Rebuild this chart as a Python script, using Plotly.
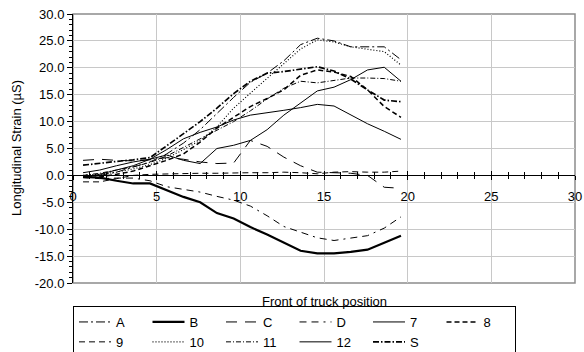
import plotly.graph_objects as go

x_pos = [0.6, 1.6, 2.6, 3.6, 4.6, 5.6, 6.6, 7.6, 8.6, 9.6, 10.6, 11.6, 12.6, 13.6, 14.6, 15.6, 16.6, 17.6, 18.6, 19.6]

series_names = ["A", "B", "C", "D", "7", "8", "9", "10", "11", "12", "S"]

A = [-0.3, 0.0, 0.6, 1.5, 2.5, 4.0, 6.0, 8.5, 11.5, 14.5, 17.3, 19.0, 21.3, 24.3, 25.5, 25.0, 23.9, 23.9, 23.9, 21.5]
B = [-0.3, -0.4, -1.0, -1.5, -1.5, -2.8, -4.0, -5.0, -7.0, -8.0, -9.6, -11.0, -12.5, -14.0, -14.5, -14.5, -14.2, -13.8, -12.5, -11.2]
C = [2.8, 3.0, 2.8, 2.7, 2.9, 3.3, 3.0, 2.5, 2.2, 2.3, 6.5, 5.4, 3.4, 1.8, 0.6, 0.5, 0.4, 0.0, -2.2, -2.4]
D = [-0.4, -0.6, -0.5, -0.5, -1.0, -2.1, -2.6, -3.1, -3.9, -4.6, -5.7, -7.5, -9.5, -10.6, -11.6, -12.1, -11.7, -11.2, -9.8, -7.7]
S7 = [-0.3, 0.2, 1.0, 1.8, 3.0, 4.8, 6.8, 8.0, 9.0, 10.3, 11.2, 11.6, 12.1, 12.6, 13.2, 12.9, 11.3, 9.6, 8.2, 6.7]
S8 = [-0.4, -0.3, 0.2, 0.8, 1.8, 2.8, 4.0, 6.2, 8.8, 10.8, 12.8, 14.3, 15.9, 18.6, 19.6, 19.2, 18.4, 15.9, 12.8, 10.8]
S9 = [-1.2, -1.2, -0.6, 0.0, 0.2, 0.3, 0.3, 0.4, 0.4, 0.5, 0.5, 0.5, 0.6, 0.5, 0.3, 0.6, 0.7, 0.6, 0.6, 0.8]
S10 = [0.0, 0.2, 0.6, 1.2, 2.0, 3.2, 4.8, 6.5, 9.0, 12.5, 15.3, 18.0, 20.8, 23.5, 25.2, 24.8, 23.9, 23.5, 23.0, 20.5]
S11 = [0.0, 0.4, 1.0, 1.6, 2.4, 3.6, 5.2, 6.8, 8.5, 10.0, 12.0, 14.2, 16.2, 17.5, 17.2, 17.6, 18.1, 18.1, 18.0, 17.5]
S12 = [0.5, 1.0, 1.8, 2.5, 3.0, 3.8, 2.8, 2.2, 5.0, 5.6, 6.5, 8.5, 11.2, 13.5, 15.7, 16.4, 17.8, 19.6, 20.1, 17.5]
SS = [1.9, 2.3, 2.6, 2.9, 3.3, 5.5, 7.8, 10.0, 12.5, 15.2, 17.5, 19.0, 19.3, 19.7, 20.2, 19.4, 17.9, 15.9, 14.0, 13.7]

series_values = [A, B, C, D, S7, S8, S9, S10, S11, S12, SS]

y_tick_vals = [30, 25, 20, 15, 10, 5, 0, -5, -10, -15, -20]
y_tick_text = ["30.0", "25.0", "20.0", "15.0", "10.0", "5.0", "0.0", "-5.0", "-10.0", "-15.0", "-20.0"]
x_tick_vals = [0, 5, 10, 15, 20, 25, 30]
x_tick_text = ["0", "5", "10", "15", "20", "25", "30"]

styles = {
    "A": dict(color="black", width=1, dash="9px,3px,2px,3px"),
    "B": dict(color="black", width=2.2, dash="solid"),
    "C": dict(color="black", width=1, dash="11px,8px"),
    "D": dict(color="black", width=1, dash="7px,5px,7px,5px,2px,5px"),
    "7": dict(color="black", width=1, dash="solid"),
    "8": dict(color="black", width=1.5, dash="5px,3px"),
    "9": dict(color="black", width=1, dash="6px,4px"),
    "10": dict(color="black", width=1.2, dash="1px,2px"),
    "11": dict(color="black", width=1, dash="5px,2px,1px,2px"),
    "12": dict(color="black", width=1, dash="solid"),
    "S": dict(color="black", width=1.7, dash="6px,2px,1.5px,2px"),
}

fig = go.Figure()
for name, vals in zip(series_names, series_values):
    fig.add_trace(go.Scatter(x=x_pos, y=vals, mode="lines", name=name,
                             line=styles[name], hoverinfo="skip"))
# helper trace for the overlaid tick axis (crossing ticks)
fig.add_trace(go.Scatter(x=[None], y=[None], xaxis="x2", yaxis="y",
                         showlegend=False, hoverinfo="skip"))

W, H = 584, 352
FONT = "Liberation Sans, Arial, sans-serif"
fig.update_layout(
    width=W, height=H,
    margin=dict(l=72.5, r=9, t=14, b=69, autoexpand=False),
    plot_bgcolor="white", paper_bgcolor="white",
    font=dict(family=FONT, size=13, color="black"),
    showlegend=True,
    legend=dict(orientation="h", xref="container", yref="container",
                x=73 / W, xanchor="left", y=1 - 306 / H, yanchor="top",
                bordercolor="black", borderwidth=1, bgcolor="white",
                entrywidth=26.5, entrywidthmode="pixels",
                font=dict(family=FONT, size=13), tracegroupgap=0, itemwidth=32),
    xaxis=dict(range=[0, 30], tickvals=x_tick_vals, ticktext=x_tick_text,
               showgrid=True, gridcolor="#c8c8c8", gridwidth=1,
               zeroline=False, showline=True, linecolor="black", linewidth=1,
               ticks="outside", ticklen=4, tickcolor="black",
               minor=dict(dtick=1, ticks="outside", ticklen=3, tickcolor="black", showgrid=False),
               anchor="free", position=0.4, ticklabelstandoff=5,
               ticklabeloverflow="allow",
               tickfont=dict(size=13)),
    xaxis2=dict(range=[0, 30], overlaying="x", anchor="free", position=0.4,
                tickvals=x_tick_vals, showticklabels=False, showgrid=False,
                zeroline=False, showline=False,
                ticks="inside", ticklen=4, tickcolor="black",
                minor=dict(dtick=1, ticks="inside", ticklen=3, tickcolor="black", showgrid=False)),
    yaxis=dict(range=[-20, 30], tickvals=y_tick_vals, ticktext=y_tick_text,
               showgrid=True, gridcolor="#c8c8c8", gridwidth=1,
               zeroline=False, showline=True, linecolor="black", linewidth=1,
               ticks="outside", ticklen=5, tickcolor="black",
               minor=dict(dtick=1, ticks="outside", ticklen=3, tickcolor="black", showgrid=False),
               ticklabeloverflow="allow",
               tickfont=dict(size=13)),
    shapes=[dict(type="rect", xref="paper", yref="paper", x0=0, x1=1, y0=0, y1=1,
                 line=dict(color="#8c8c8c", width=1.5), layer="below")],
    annotations=[
        dict(text="Front of truck position", xref="paper", yref="paper",
             x=0.5, y=-0.07, xanchor="center", yanchor="middle",
             showarrow=False, font=dict(size=13)),
        dict(text="Longitudinal Strain (µS)", xref="paper", yref="paper",
             x=(16 - 72.5) / 502.5, y=0.5, xanchor="center", yanchor="middle",
             textangle=-90, showarrow=False, font=dict(size=13)),
    ],
)

fig.write_html("out.html", config={"displayModeBar": False, "staticPlot": True},
               post_script="document.body.style.margin='0';document.body.style.overflow='hidden';")
